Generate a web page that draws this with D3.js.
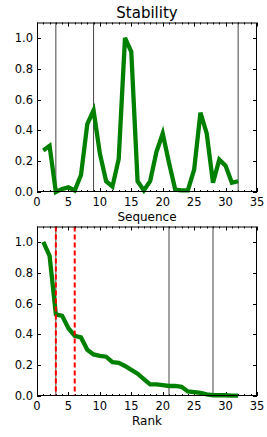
<!DOCTYPE html>
<html><head><meta charset="utf-8">
<script src="https://cdn.jsdelivr.net/npm/d3@7"></script>
<style>body{margin:0;background:#fff}svg{display:block}text{font-family:"DejaVu Sans",sans-serif;fill:#000}</style>
</head><body>
<script>
const sequence = d3.range(1, 33);
const stability = [0.27,0.30,0.00,0.02,0.03,0.01,0.11,0.44,0.53,0.25,0.07,0.035,0.215,1.00,0.91,0.07,0.01,0.07,0.26,0.38,0.19,0.015,0.01,0.01,0.145,0.515,0.38,0.06,0.21,0.17,0.06,0.07];
const rank = d3.range(1, 33);
const ranked = [1.00,0.91,0.53,0.52,0.44,0.39,0.38,0.30,0.27,0.26,0.255,0.22,0.215,0.195,0.17,0.145,0.11,0.075,0.075,0.07,0.065,0.065,0.06,0.03,0.025,0.02,0.01,0.005,0.005,0.005,0.003,0.002];
const topLines = [3, 9, 32];
const bottomLines = [3, 21, 28];
const bottomDashed = [3, 6];
const xTicks = [0,5,10,15,20,25,30,35];
const yTicks = [0,0.2,0.4,0.6,0.8,1.0];

const W = 267, H = 437;
const svg = d3.select("body").append("svg").attr("width", W).attr("height", H);

function panel(top, bottom, xs, ys, vlines, dashed, xlabel, title) {
  const x = d3.scaleLinear().domain([0, 35]).range([37, 257]);
  const y = d3.scaleLinear().domain([0, 1.1]).range([bottom, top]);
  const g = svg.append("g");
  const minor = d3.range(0, 36).filter(v => v % 5 !== 0);
  const tk = g.append("g").attr("stroke", "#000").attr("stroke-width", 1);
  minor.forEach(v => {
    const px = Math.round(x(v)) + 0.5;
    tk.append("line").attr("x1", px).attr("x2", px).attr("y1", bottom).attr("y2", bottom - 2);
    tk.append("line").attr("x1", px).attr("x2", px).attr("y1", top).attr("y2", top + 2);
  });
  xTicks.forEach(v => {
    const px = Math.round(x(v)) + 0.5;
    tk.append("line").attr("x1", px).attr("x2", px).attr("y1", bottom).attr("y2", bottom - 4);
    tk.append("line").attr("x1", px).attr("x2", px).attr("y1", top).attr("y2", top + 4);
  });
  yTicks.forEach(v => {
    const py = Math.round(y(v)) + 0.5;
    tk.append("line").attr("x1", 37).attr("x2", 41).attr("y1", py).attr("y2", py);
    tk.append("line").attr("x1", 257).attr("x2", 253).attr("y1", py).attr("y2", py);
  });
  g.append("g").selectAll("text").data(xTicks).join("text")
    .attr("x", d => x(d)).attr("y", bottom + 14).attr("text-anchor", "middle")
    .attr("font-size", 11.5).text(d => d);
  g.append("g").selectAll("text").data(yTicks).join("text")
    .attr("x", 33).attr("y", d => y(d) + 4).attr("text-anchor", "end")
    .attr("font-size", 11.5).text(d => d.toFixed(1));
  g.append("g").selectAll("line").data(vlines).join("line")
    .attr("x1", d => x(d)).attr("x2", d => x(d)).attr("y1", top).attr("y2", bottom)
    .attr("stroke", "#444").attr("stroke-width", 1);
  const line = d3.line().x((d, i) => x(xs[i])).y(d => y(d));
  g.append("path").datum(ys).attr("d", line).attr("fill", "none")
    .attr("stroke", "#008000").attr("stroke-width", 4.3).attr("stroke-linejoin", "miter");
  g.append("g").selectAll("line").data(dashed).join("line")
    .attr("x1", d => x(d)).attr("x2", d => x(d)).attr("y1", top).attr("y2", bottom)
    .attr("stroke", "#ff0000").attr("stroke-width", 2).attr("stroke-dasharray", "5,3");
  g.append("rect").attr("x", 37.5).attr("y", top + 0.5).attr("width", 220 - 1).attr("height", bottom - top - 1)
    .attr("fill", "none").attr("stroke", "#000").attr("stroke-width", 1);
  g.append("text").attr("x", 147).attr("y", bottom + 29).attr("text-anchor", "middle")
    .attr("font-size", 12).text(xlabel);
  if (title) g.append("text").attr("x", 147).attr("y", top - 5).attr("text-anchor", "middle")
    .attr("font-size", 15).text(title);
}

panel(22.5, 192, sequence, stability, topLines, [], "Sequence", "Stability");
panel(226.5, 396, rank, ranked, bottomLines, bottomDashed, "Rank", null);
</script>
</body></html>
